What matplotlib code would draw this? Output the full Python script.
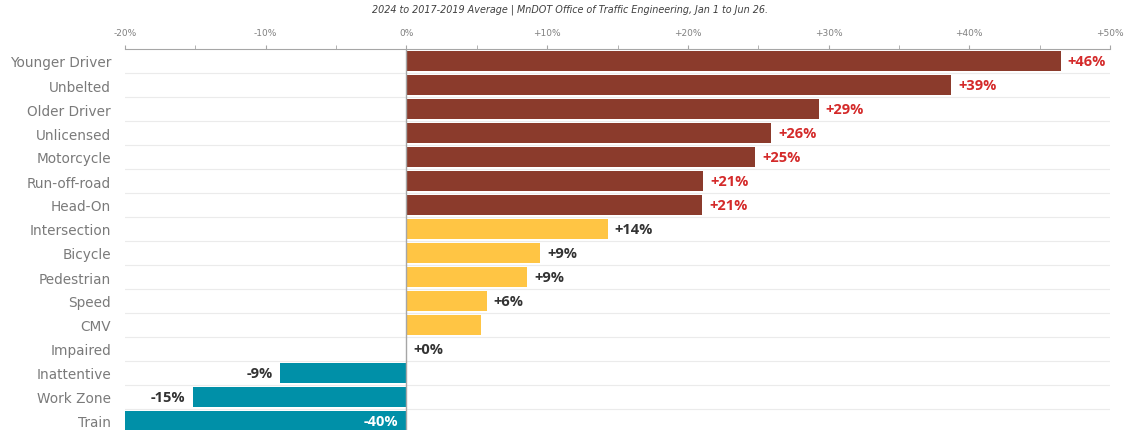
import matplotlib.pyplot as plt
from matplotlib.ticker import MultipleLocator, FixedLocator
import numpy as np

# crash categories, % change 2024 vs 2017-2019 average
categories = ["Younger Driver", "Unbelted", "Older Driver", "Unlicensed", "Motorcycle",
              "Run-off-road", "Head-On", "Intersection", "Bicycle", "Pedestrian",
              "Speed", "CMV", "Impaired", "Inattentive", "Work Zone", "Train"]
values = [46.5, 38.7, 29.3, 25.9, 24.8, 21.1, 21.0, 14.3, 9.5, 8.6, 5.7, 5.3, 0.0, -9.0, -15.2, -40.0]
labels = ["+46%", "+39%", "+29%", "+26%", "+25%", "+21%", "+21%", "+14%", "+9%", "+9%",
          "+6%", "", "+0%", "-9%", "-15%", "-40%"]
groups = ["high"] * 7 + ["mid"] * 5 + ["low"] * 4

bar_col = {"high": "#8B3B2C", "mid": "#FFC544", "low": "#0090A8"}
txt_col = {"high": "#D42A2A", "mid": "#333333", "low": "#333333"}

tick_vals = [-20, -10, 0, 10, 20, 30, 40, 50]
tick_text = ["-20%", "-10%", "0%", "+10%", "+20%", "+30%", "+40%", "+50%"]

fig = plt.figure(figsize=(11.28, 4.31), dpi=100)
ax = fig.add_axes([125/1128, 0, 985/1128, 1 - 50/431])

y = np.arange(len(categories))
cols = [bar_col[g] for g in groups]
ax.barh(y, values, height=0.82, color=cols, zorder=2)

ax.set_xlim(-20, 50)
ax.set_ylim(15.375, -0.5)

# value labels
for i, (v, lab, g) in enumerate(zip(values, labels, groups)):
    if lab == "":
        continue
    if v < -20:
        ax.text(-0.6, i, lab, ha="right", va="center", color="white",
                fontsize=10.5, fontweight="bold", family="Open Sans", zorder=3)
    elif v < 0:
        ax.text(v - 0.5, i, lab, ha="right", va="center", color=txt_col[g],
                fontsize=10.5, fontweight="bold", family="Open Sans", zorder=3)
    else:
        ax.text(v + 0.5, i, lab, ha="left", va="center", color=txt_col[g],
                fontsize=10.5, fontweight="bold", family="Open Sans", zorder=3)

# row separators
for yy in np.arange(0.5, len(categories), 1):
    ax.axhline(yy, color="#EBEBEB", lw=0.8, zorder=1)
ax.axvline(0, color="#A6A6A6", lw=1.0, zorder=3)

ax.xaxis.tick_top()
ax.xaxis.set_major_locator(FixedLocator(tick_vals))
ax.set_xticklabels(tick_text)
ax.xaxis.set_minor_locator(MultipleLocator(5))
ax.tick_params(axis="x", which="both", direction="out", length=3, color="#A6A6A6",
               labelsize=6.5, labelcolor="#808080", pad=6)
for t in ax.get_xticklabels():
    t.set_family("Liberation Sans Narrow")

ax.set_yticks(y)
ax.set_yticklabels(categories, fontsize=9.8, color="#7A7A7A", family="DejaVu Sans")
ax.tick_params(axis="y", length=0, pad=10)

for s in ["right", "bottom", "left"]:
    ax.spines[s].set_visible(False)
ax.spines["top"].set_color("#A6A6A6")

fig.text(570/1128, 1 - 10/431,
         "2024 to 2017-2019 Average | MnDOT Office of Traffic Engineering, Jan 1 to Jun 26.",
         ha="center", va="center", fontsize=6.9, style="italic", color="#404040")

fig.savefig("out.png", dpi=100)
